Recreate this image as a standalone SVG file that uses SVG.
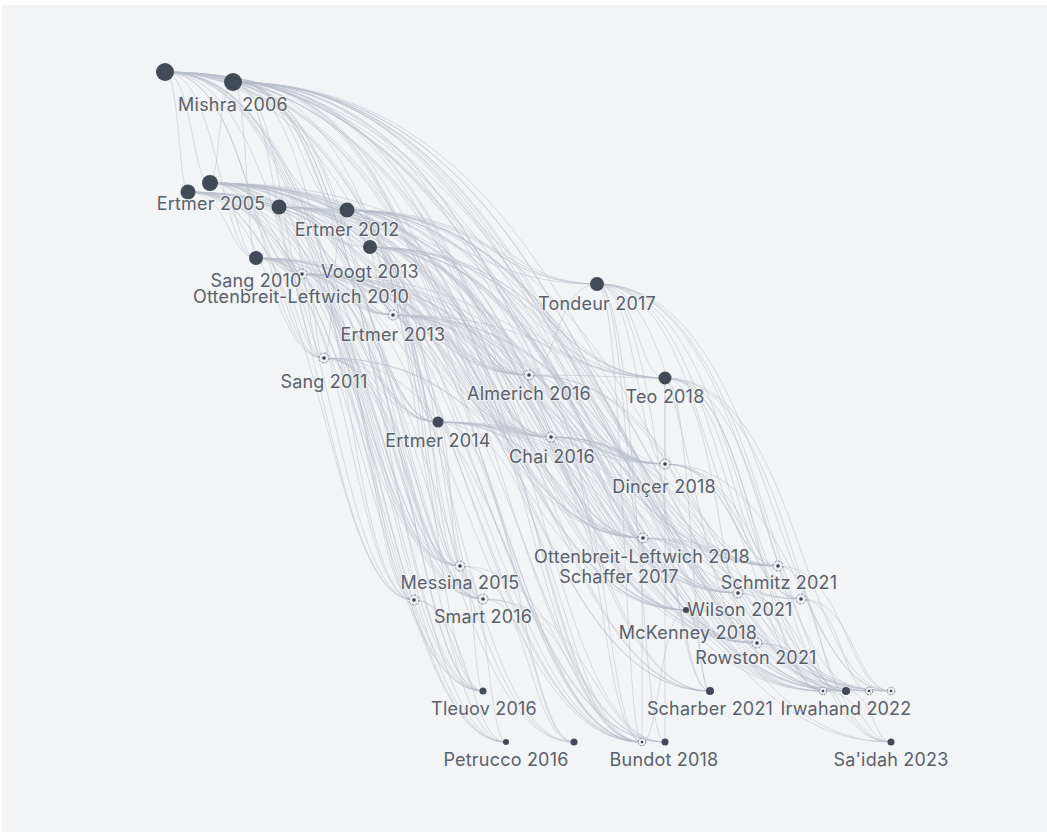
<svg xmlns="http://www.w3.org/2000/svg" width="1047" height="835" viewBox="0 0 1047 835">
  <style>
    .edges path { fill: none; stroke: #b7bec9; stroke-width: 1; stroke-opacity: 0.5; }
    .dot { fill: #434a57; }
    .lbl { font-family: Inter, "Noto Sans", "Liberation Sans", sans-serif; font-size: 18px; letter-spacing: 0.2px; fill: #5a616d; text-anchor: middle; paint-order: stroke; stroke: #f3f4f6; stroke-width: 2.5px; stroke-opacity: 0.6; }
  </style>
  <defs>
    <g id="mk">
      <circle r="5" fill="#eceef2" stroke="#7f858f" stroke-width="1" stroke-dasharray="2.4 1.4"/>
      <circle r="1.8" fill="#3d4450"/>
    </g>
    <g id="mks">
      <circle r="3.8" fill="#eceef2" stroke="#7f858f" stroke-width="1" stroke-dasharray="1.9 1.1"/>
      <circle r="1.3" fill="#3d4450"/>
    </g>
  </defs>

  <rect x="0" y="0" width="1047" height="835" fill="#ffffff"/>
  <rect x="2" y="5" width="1045" height="827" fill="#f3f4f6"/>

  <g id="connectors" class="edges">
    <!-- from the top-left cluster -->
    <path d="M165,72C206,72 206,82 233,82"/>
    <path d="M165,72C192,72 192,183 210,183"/>
    <path d="M165,72C179,72 179,192 188,192"/>
    <path d="M165,72C274,72 274,210 347,210"/>
    <path d="M165,72C220,72 220,258 256,258"/>
    <path d="M165,72C247,72 247,274 302,274"/>
    <path d="M165,72C302,72 302,315 393,315"/>
    <path d="M165,72C260,72 260,358 324,358"/>
    <path d="M165,72C424,72 424,284 597,284"/>
    <path d="M165,72C383,72 383,375 529,375"/>
    <path d="M165,72C465,72 465,378 665,378"/>
    <path d="M165,72C329,72 329,422 438,422"/>
    <path d="M165,72C397,72 397,437 551,437"/>
    <path d="M165,72C465,72 465,464 665,464"/>
    <path d="M165,72C452,72 452,538 643,538"/>
    <path d="M165,72C533,72 533,566 778,566"/>
    <path d="M165,72C509,72 509,593 738,593"/>
    <path d="M165,72C478,72 478,610 686,610"/>
    <path d="M165,72C520,72 520,643 757,643"/>
    <path d="M165,72C342,72 342,566 460,566"/>
    <path d="M165,72C314,72 314,600 414,600"/>
    <path d="M165,72C356,72 356,599 483,599"/>
    <path d="M165,72C356,72 356,691 483,691"/>
    <path d="M165,72C370,72 370,742 506,742"/>
    <path d="M165,72C451,72 451,742 642,742"/>
    <path d="M165,72C465,72 465,742 665,742"/>
    <path d="M165,72C492,72 492,691 710,691"/>
    <path d="M165,72C574,72 574,691 846,691"/>
    <path d="M165,72C601,72 601,691 891,691"/>
    <path d="M165,72C601,72 601,742 891,742"/>

    <path d="M233,82C219,82 219,183 210,183"/>
    <path d="M233,82C301,82 301,210 347,210"/>
    <path d="M233,82C315,82 315,247 370,247"/>
    <path d="M233,82C247,82 247,258 256,258"/>
    <path d="M233,82C274,82 274,274 302,274"/>
    <path d="M233,82C329,82 329,315 393,315"/>
    <path d="M233,82C288,82 288,358 324,358"/>
    <path d="M233,82C451,82 451,284 597,284"/>
    <path d="M233,82C411,82 411,375 529,375"/>
    <path d="M233,82C492,82 492,378 665,378"/>
    <path d="M233,82C356,82 356,422 438,422"/>
    <path d="M233,82C424,82 424,437 551,437"/>
    <path d="M233,82C492,82 492,464 665,464"/>
    <path d="M233,82C479,82 479,538 643,538"/>
    <path d="M233,82C560,82 560,566 778,566"/>
    <path d="M233,82C536,82 536,593 738,593"/>
    <path d="M233,82C574,82 574,599 801,599"/>
    <path d="M233,82C505,82 505,610 686,610"/>
    <path d="M233,82C547,82 547,643 757,643"/>
    <path d="M233,82C369,82 369,566 460,566"/>
    <path d="M233,82C342,82 342,600 414,600"/>
    <path d="M233,82C383,82 383,599 483,599"/>
    <path d="M233,82C383,82 383,691 483,691"/>
    <path d="M233,82C438,82 438,742 574,742"/>
    <path d="M233,82C478,82 478,742 642,742"/>
    <path d="M233,82C492,82 492,742 665,742"/>
    <path d="M233,82C519,82 519,691 710,691"/>
    <path d="M233,82C587,82 587,691 823,691"/>
    <path d="M233,82C601,82 601,691 846,691"/>
    <path d="M233,82C615,82 615,691 869,691"/>
    <path d="M233,82C628,82 628,691 891,691"/>
    <path d="M233,82C628,82 628,742 891,742"/>

    <path d="M188,192C229,192 229,258 256,258"/>
    <path d="M188,192C256,192 256,274 302,274"/>
    <path d="M188,192C311,192 311,315 393,315"/>
    <path d="M188,192C270,192 270,358 324,358"/>
    <path d="M188,192C393,192 393,375 529,375"/>
    <path d="M188,192C338,192 338,422 438,422"/>
    <path d="M188,192C406,192 406,437 551,437"/>
    <path d="M188,192C461,192 461,538 643,538"/>
    <path d="M188,192C487,192 487,610 686,610"/>
    <path d="M188,192C351,192 351,566 460,566"/>
    <path d="M188,192C324,192 324,600 414,600"/>
    <path d="M188,192C365,192 365,599 483,599"/>
    <path d="M188,192C365,192 365,691 483,691"/>
    <path d="M188,192C379,192 379,742 506,742"/>
    <path d="M188,192C460,192 460,742 642,742"/>
    <path d="M188,192C529,192 529,643 757,643"/>
    <path d="M188,192C583,192 583,691 846,691"/>

    <path d="M210,183C251,183 251,207 279,207"/>
    <path d="M210,183C292,183 292,210 347,210"/>
    <path d="M210,183C306,183 306,247 370,247"/>
    <path d="M210,183C238,183 238,258 256,258"/>
    <path d="M210,183C265,183 265,274 302,274"/>
    <path d="M210,183C320,183 320,315 393,315"/>
    <path d="M210,183C278,183 278,358 324,358"/>
    <path d="M210,183C442,183 442,284 597,284"/>
    <path d="M210,183C401,183 401,375 529,375"/>
    <path d="M210,183C483,183 483,378 665,378"/>
    <path d="M210,183C347,183 347,422 438,422"/>
    <path d="M210,183C415,183 415,437 551,437"/>
    <path d="M210,183C483,183 483,464 665,464"/>
    <path d="M210,183C470,183 470,538 643,538"/>
    <path d="M210,183C551,183 551,566 778,566"/>
    <path d="M210,183C527,183 527,593 738,593"/>
    <path d="M210,183C565,183 565,599 801,599"/>
    <path d="M210,183C496,183 496,610 686,610"/>
    <path d="M210,183C538,183 538,643 757,643"/>
    <path d="M210,183C360,183 360,566 460,566"/>
    <path d="M210,183C332,183 332,600 414,600"/>
    <path d="M210,183C374,183 374,599 483,599"/>
    <path d="M210,183C374,183 374,691 483,691"/>
    <path d="M210,183C388,183 388,742 506,742"/>
    <path d="M210,183C428,183 428,742 574,742"/>
    <path d="M210,183C469,183 469,742 642,742"/>
    <path d="M210,183C483,183 483,742 665,742"/>
    <path d="M210,183C510,183 510,691 710,691"/>
    <path d="M210,183C578,183 578,691 823,691"/>
    <path d="M210,183C592,183 592,691 846,691"/>
    <path d="M210,183C619,183 619,691 891,691"/>

    <path d="M279,207C320,207 320,210 347,210"/>
    <path d="M279,207C347,207 347,315 393,315"/>
    <path d="M279,207C306,207 306,358 324,358"/>
    <path d="M279,207C429,207 429,375 529,375"/>
    <path d="M279,207C374,207 374,422 438,422"/>
    <path d="M279,207C442,207 442,437 551,437"/>
    <path d="M279,207C511,207 511,464 665,464"/>
    <path d="M279,207C497,207 497,538 643,538"/>
    <path d="M279,207C578,207 578,566 778,566"/>
    <path d="M279,207C523,207 523,610 686,610"/>
    <path d="M279,207C388,207 388,566 460,566"/>
    <path d="M279,207C401,207 401,599 483,599"/>
    <path d="M279,207C497,207 497,742 642,742"/>
    <path d="M279,207C566,207 566,643 757,643"/>
    <path d="M279,207C633,207 633,691 869,691"/>

    <path d="M347,210C361,210 361,247 370,247"/>
    <path d="M347,210C375,210 375,315 393,315"/>
    <path d="M347,210C333,210 333,358 324,358"/>
    <path d="M347,210C497,210 497,284 597,284"/>
    <path d="M347,210C456,210 456,375 529,375"/>
    <path d="M347,210C538,210 538,378 665,378"/>
    <path d="M347,210C402,210 402,422 438,422"/>
    <path d="M347,210C469,210 469,437 551,437"/>
    <path d="M347,210C538,210 538,464 665,464"/>
    <path d="M347,210C525,210 525,538 643,538"/>
    <path d="M347,210C606,210 606,566 778,566"/>
    <path d="M347,210C582,210 582,593 738,593"/>
    <path d="M347,210C619,210 619,599 801,599"/>
    <path d="M347,210C550,210 550,610 686,610"/>
    <path d="M347,210C593,210 593,643 757,643"/>
    <path d="M347,210C415,210 415,566 460,566"/>
    <path d="M347,210C429,210 429,599 483,599"/>
    <path d="M347,210C429,210 429,691 483,691"/>
    <path d="M347,210C524,210 524,742 642,742"/>
    <path d="M347,210C538,210 538,742 665,742"/>
    <path d="M347,210C565,210 565,691 710,691"/>
    <path d="M347,210C633,210 633,691 823,691"/>
    <path d="M347,210C646,210 646,691 846,691"/>
    <path d="M347,210C673,210 673,691 891,691"/>

    <path d="M370,247C384,247 384,315 393,315"/>
    <path d="M370,247C465,247 465,375 529,375"/>
    <path d="M370,247C547,247 547,378 665,378"/>
    <path d="M370,247C411,247 411,422 438,422"/>
    <path d="M370,247C479,247 479,437 551,437"/>
    <path d="M370,247C547,247 547,464 665,464"/>
    <path d="M370,247C534,247 534,538 643,538"/>
    <path d="M370,247C615,247 615,566 778,566"/>
    <path d="M370,247C591,247 591,593 738,593"/>
    <path d="M370,247C560,247 560,610 686,610"/>
    <path d="M370,247C602,247 602,643 757,643"/>
    <path d="M370,247C424,247 424,566 460,566"/>
    <path d="M370,247C438,247 438,599 483,599"/>
    <path d="M370,247C533,247 533,742 642,742"/>
    <path d="M370,247C574,247 574,691 710,691"/>
    <path d="M370,247C656,247 656,691 846,691"/>
    <path d="M370,247C669,247 669,691 869,691"/>

    <path d="M256,258C284,258 284,274 302,274"/>
    <path d="M256,258C338,258 338,315 393,315"/>
    <path d="M256,258C297,258 297,358 324,358"/>
    <path d="M256,258C420,258 420,375 529,375"/>
    <path d="M256,258C365,258 365,422 438,422"/>
    <path d="M256,258C433,258 433,437 551,437"/>
    <path d="M256,258C488,258 488,538 643,538"/>
    <path d="M256,258C378,258 378,566 460,566"/>
    <path d="M256,258C351,258 351,600 414,600"/>
    <path d="M256,258C392,258 392,599 483,599"/>
    <path d="M256,258C392,258 392,691 483,691"/>
    <path d="M256,258C406,258 406,742 506,742"/>
    <path d="M256,258C447,258 447,742 574,742"/>
    <path d="M256,258C488,258 488,742 642,742"/>
    <path d="M256,258C514,258 514,610 686,610"/>
    <path d="M256,258C610,258 610,691 846,691"/>

    <path d="M302,274C357,274 357,315 393,315"/>
    <path d="M302,274C315,274 315,358 324,358"/>
    <path d="M302,274C438,274 438,375 529,375"/>
    <path d="M302,274C520,274 520,378 665,378"/>
    <path d="M302,274C384,274 384,422 438,422"/>
    <path d="M302,274C451,274 451,437 551,437"/>
    <path d="M302,274C520,274 520,464 665,464"/>
    <path d="M302,274C507,274 507,538 643,538"/>
    <path d="M302,274C588,274 588,566 778,566"/>
    <path d="M302,274C564,274 564,593 738,593"/>
    <path d="M302,274C532,274 532,610 686,610"/>
    <path d="M302,274C397,274 397,566 460,566"/>
    <path d="M302,274C369,274 369,600 414,600"/>
    <path d="M302,274C411,274 411,599 483,599"/>
    <path d="M302,274C411,274 411,691 483,691"/>
    <path d="M302,274C506,274 506,742 642,742"/>
    <path d="M302,274C520,274 520,742 665,742"/>
    <path d="M302,274C547,274 547,691 710,691"/>
    <path d="M302,274C575,274 575,643 757,643"/>
    <path d="M302,274C615,274 615,691 823,691"/>
    <path d="M302,274C655,274 655,691 891,691"/>

    <!-- from the middle band -->
    <path d="M393,315C475,315 475,375 529,375"/>
    <path d="M393,315C556,315 556,378 665,378"/>
    <path d="M393,315C420,315 420,422 438,422"/>
    <path d="M393,315C488,315 488,437 551,437"/>
    <path d="M393,315C556,315 556,464 665,464"/>
    <path d="M393,315C543,315 543,538 643,538"/>
    <path d="M393,315C624,315 624,566 778,566"/>
    <path d="M393,315C569,315 569,610 686,610"/>
    <path d="M393,315C433,315 433,566 460,566"/>
    <path d="M393,315C447,315 447,599 483,599"/>
    <path d="M393,315C542,315 542,742 642,742"/>
    <path d="M393,315C611,315 611,643 757,643"/>
    <path d="M393,315C665,315 665,691 846,691"/>

    <path d="M324,358C392,358 392,422 438,422"/>
    <path d="M324,358C406,358 406,566 460,566"/>
    <path d="M324,358C378,358 378,600 414,600"/>
    <path d="M324,358C419,358 419,599 483,599"/>
    <path d="M324,358C419,358 419,691 483,691"/>
    <path d="M324,358C460,358 460,437 551,437"/>
    <path d="M324,358C515,358 515,538 643,538"/>
    <path d="M324,358C515,358 515,742 642,742"/>
    <path d="M324,358C433,358 433,742 506,742"/>

    <path d="M597,284C638,284 638,378 665,378"/>
    <path d="M597,284C556,284 556,375 529,375"/>
    <path d="M597,284C638,284 638,464 665,464"/>
    <path d="M597,284C625,284 625,538 643,538"/>
    <path d="M597,284C706,284 706,566 778,566"/>
    <path d="M597,284C719,284 719,599 801,599"/>
    <path d="M597,284C693,284 693,643 757,643"/>
    <path d="M597,284C624,284 624,742 642,742"/>
    <path d="M597,284C638,284 638,742 665,742"/>
    <path d="M597,284C665,284 665,691 710,691"/>
    <path d="M597,284C746,284 746,691 846,691"/>
    <path d="M597,284C773,284 773,691 891,691"/>
    <path d="M597,284C773,284 773,742 891,742"/>
    <path d="M597,284C760,284 760,691 869,691"/>

    <path d="M529,375C611,375 611,378 665,378"/>
    <path d="M529,375C611,375 611,464 665,464"/>
    <path d="M529,375C597,375 597,538 643,538"/>
    <path d="M529,375C597,375 597,742 642,742"/>
    <path d="M529,375C678,375 678,566 778,566"/>
    <path d="M529,375C719,375 719,691 846,691"/>

    <path d="M665,378C665,378 665,464 665,464"/>
    <path d="M665,378C733,378 733,566 778,566"/>
    <path d="M665,378C747,378 747,599 801,599"/>
    <path d="M665,378C720,378 720,643 757,643"/>
    <path d="M665,378C760,378 760,691 823,691"/>
    <path d="M665,378C774,378 774,691 846,691"/>
    <path d="M665,378C801,378 801,691 891,691"/>
    <path d="M665,378C692,378 692,691 710,691"/>
    <path d="M665,378C665,378 665,742 665,742"/>
    <path d="M665,378C801,378 801,742 891,742"/>

    <path d="M438,422C506,422 506,437 551,437"/>
    <path d="M438,422C574,422 574,464 665,464"/>
    <path d="M438,422C561,422 561,538 643,538"/>
    <path d="M438,422C642,422 642,566 778,566"/>
    <path d="M438,422C618,422 618,593 738,593"/>
    <path d="M438,422C587,422 587,610 686,610"/>
    <path d="M438,422C629,422 629,643 757,643"/>
    <path d="M438,422C451,422 451,566 460,566"/>
    <path d="M438,422C560,422 560,742 642,742"/>
    <path d="M438,422C683,422 683,691 846,691"/>
    <path d="M438,422C669,422 669,691 823,691"/>
    <path d="M438,422C520,422 520,742 574,742"/>

    <path d="M551,437C619,437 619,464 665,464"/>
    <path d="M551,437C606,437 606,538 643,538"/>
    <path d="M551,437C687,437 687,566 778,566"/>
    <path d="M551,437C663,437 663,593 738,593"/>
    <path d="M551,437C675,437 675,643 757,643"/>
    <path d="M551,437C606,437 606,742 642,742"/>
    <path d="M551,437C728,437 728,691 846,691"/>
    <path d="M551,437C742,437 742,691 869,691"/>

    <path d="M665,464C733,464 733,566 778,566"/>
    <path d="M665,464C747,464 747,599 801,599"/>
    <path d="M665,464C760,464 760,691 823,691"/>
    <path d="M665,464C774,464 774,691 846,691"/>
    <path d="M665,464C801,464 801,691 891,691"/>

    <path d="M643,538C724,538 724,566 778,566"/>
    <path d="M643,538C700,538 700,593 738,593"/>
    <path d="M643,538C711,538 711,643 757,643"/>
    <path d="M643,538C642,538 642,742 642,742"/>
    <path d="M643,538C683,538 683,691 710,691"/>
    <path d="M643,538C765,538 765,691 846,691"/>
    <path d="M643,538C779,538 779,691 869,691"/>

    <!-- lower rows -->
    <path d="M460,566C474,566 474,691 483,691"/>
    <path d="M460,566C488,566 488,742 506,742"/>
    <path d="M460,566C528,566 528,742 574,742"/>
    <path d="M460,566C569,566 569,742 642,742"/>
    <path d="M414,600C455,600 455,691 483,691"/>
    <path d="M414,600C469,600 469,742 506,742"/>
    <path d="M483,599C538,599 538,742 574,742"/>
    <path d="M483,599C578,599 578,742 642,742"/>
    <path d="M483,599C592,599 592,742 665,742"/>
    <path d="M778,566C819,566 819,691 846,691"/>
    <path d="M778,566C846,566 846,691 891,691"/>
    <path d="M738,593C789,593 789,691 823,691"/>
    <path d="M738,593C803,593 803,691 846,691"/>
    <path d="M801,599C855,599 855,691 891,691"/>
    <path d="M801,599C842,599 842,691 869,691"/>
    <path d="M686,610C660,610 660,742 642,742"/>
    <path d="M686,610C782,610 782,691 846,691"/>
    <path d="M686,610C700,610 700,691 710,691"/>
    <path d="M757,643C797,643 797,691 823,691"/>
    <path d="M757,643C810,643 810,691 846,691"/>
    <path d="M757,643C837,643 837,742 891,742"/>
    <path d="M823,691C864,691 864,742 891,742"/>
    <path d="M846,691C873,691 873,742 891,742"/>
  </g>

  <!-- papers -->
  <g id="node-a1"><circle class="dot" cx="165" cy="72" r="9"/></g>
  <g id="node-mishra-2006"><circle class="dot" cx="233" cy="82" r="9"/><text class="lbl" x="233" y="111">Mishra 2006</text></g>
  <g id="node-a3"><circle class="dot" cx="188" cy="192" r="7.5"/></g>
  <g id="node-ertmer-2005"><circle class="dot" cx="210" cy="183" r="8"/><text class="lbl" x="211" y="210">Ertmer 2005</text></g>
  <g id="node-a5"><circle class="dot" cx="279" cy="207" r="7.5"/></g>
  <g id="node-ertmer-2012"><circle class="dot" cx="347" cy="210" r="7.5"/><text class="lbl" x="347" y="236">Ertmer 2012</text></g>
  <g id="node-voogt-2013"><circle class="dot" cx="370" cy="247" r="7"/><text class="lbl" x="370" y="278">Voogt 2013</text></g>
  <g id="node-sang-2010"><circle class="dot" cx="256" cy="258" r="7"/></g>
  <g id="node-ottenbreit-leftwich-2010"><use href="#mk" x="302" y="274"/></g>
  <g id="node-ertmer-2013"><use href="#mk" x="393" y="315"/><text class="lbl" x="393" y="341">Ertmer 2013</text></g>
  <g id="node-sang-2011"><use href="#mk" x="324" y="358"/><text class="lbl" x="324" y="388">Sang 2011</text></g>
  <g id="node-tondeur-2017"><circle class="dot" cx="597" cy="284" r="7"/><text class="lbl" x="597" y="310">Tondeur 2017</text></g>
  <g id="node-almerich-2016"><use href="#mk" x="529" y="375"/><text class="lbl" x="529" y="400">Almerich 2016</text></g>
  <g id="node-teo-2018"><circle class="dot" cx="665" cy="378" r="6.5"/><text class="lbl" x="665" y="403">Teo 2018</text></g>
  <g id="node-ertmer-2014"><circle class="dot" cx="438" cy="422" r="5.5"/><text class="lbl" x="438" y="447">Ertmer 2014</text></g>
  <g id="node-chai-2016"><use href="#mk" x="551" y="437"/><text class="lbl" x="552" y="463">Chai 2016</text></g>
  <g id="node-dincer-2018"><use href="#mk" x="665" y="464"/><text class="lbl" x="664" y="493">Dinçer 2018</text></g>
  <g id="node-ottenbreit-leftwich-2018"><use href="#mk" x="643" y="538"/><text class="lbl" x="642" y="563">Ottenbreit-Leftwich 2018</text></g>
  <g id="node-schaffer-2017"><text class="lbl" x="619" y="583">Schaffer 2017</text></g>
  <g id="node-wilson-2021"><use href="#mk" x="738" y="593"/><text class="lbl" x="740" y="616">Wilson 2021</text></g>
  <g id="node-schmitz-2021"><use href="#mk" x="778" y="566"/><text class="lbl" x="779" y="589">Schmitz 2021</text></g>
  <g id="node-m22"><use href="#mk" x="801" y="599"/></g>
  <g id="node-mckenney-2018"><circle class="dot" cx="686" cy="610" r="3"/><text class="lbl" x="688" y="639">McKenney 2018</text></g>
  <g id="node-rowston-2021"><use href="#mk" x="757" y="643"/><text class="lbl" x="756" y="664">Rowston 2021</text></g>
  <g id="node-sang-2010-label"><text class="lbl" x="256" y="287">Sang 2010</text></g>
  <g id="node-ottenbreit-leftwich-2010-label"><text class="lbl" x="301" y="303">Ottenbreit-Leftwich 2010</text></g>
  <g id="node-messina-2015"><use href="#mk" x="460" y="566"/><text class="lbl" x="460" y="589">Messina 2015</text></g>
  <g id="node-m26"><use href="#mk" x="414" y="600"/></g>
  <g id="node-smart-2016"><use href="#mk" x="483" y="599"/><text class="lbl" x="483" y="623">Smart 2016</text></g>
  <g id="node-tleuov-2016"><circle class="dot" cx="483" cy="691" r="3.5"/><text class="lbl" x="484" y="715">Tleuov 2016</text></g>
  <g id="node-petrucco-2016"><circle class="dot" cx="506" cy="742" r="3"/><text class="lbl" x="506" y="766">Petrucco 2016</text></g>
  <g id="node-d30"><circle class="dot" cx="574" cy="742" r="3.5"/></g>
  <g id="node-m31"><use href="#mks" x="642" y="742"/></g>
  <g id="node-bundot-2018"><circle class="dot" cx="665" cy="742" r="3.5"/><text class="lbl" x="664" y="766">Bundot 2018</text></g>
  <g id="node-scharber-2021"><circle class="dot" cx="710" cy="691" r="4"/><text class="lbl" x="710" y="715">Scharber 2021</text></g>
  <g id="node-m34"><use href="#mks" x="823" y="691"/></g>
  <g id="node-irwahand-2022"><circle class="dot" cx="846" cy="691" r="4"/><text class="lbl" x="846" y="715">Irwahand 2022</text></g>
  <g id="node-m36"><use href="#mks" x="869" y="691"/></g>
  <g id="node-m37"><use href="#mks" x="891" y="691"/></g>
  <g id="node-saidah-2023"><circle class="dot" cx="891" cy="742" r="3.5"/><text class="lbl" x="891" y="766">Sa'idah 2023</text></g>
</svg>
